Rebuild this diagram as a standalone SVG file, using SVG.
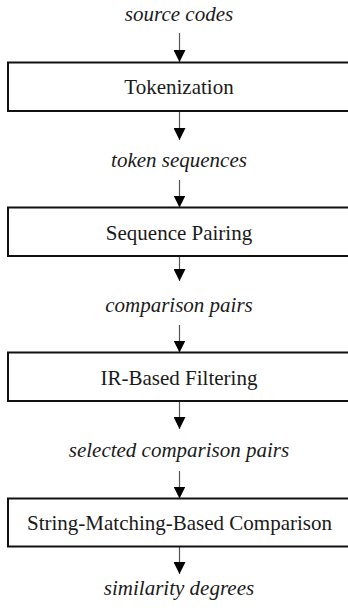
<svg xmlns="http://www.w3.org/2000/svg" width="348" height="610" viewBox="0 0 348 610">
<style>
.box{fill:#fff;stroke:#111;stroke-width:2}
.lbl{font-family:"Liberation Serif","Times New Roman",serif;font-size:21px;fill:#1a1a1a;text-anchor:middle}
.data{font-family:"Liberation Serif","Times New Roman",serif;font-size:21px;font-style:italic;fill:#1a1a1a;text-anchor:middle}
.conn{stroke:#555;stroke-width:1.2;fill:none;marker-end:url(#ah)}
</style>
<defs>
<marker id="ah" markerUnits="userSpaceOnUse" markerWidth="12" markerHeight="12" refX="12" refY="6" orient="auto">
<path d="M0,0 L12,6 L0,12 Z" fill="#000"/>
</marker>
</defs>
<rect width="348" height="610" fill="#fff"/>
<g id="connectors">
<line class="conn" x1="179.5" y1="33" x2="179.5" y2="62"/>
<line class="conn" x1="179.5" y1="111" x2="179.5" y2="140"/>
<line class="conn" x1="179.5" y1="180" x2="179.5" y2="207.5"/>
<line class="conn" x1="179.5" y1="256" x2="179.5" y2="281"/>
<line class="conn" x1="179.5" y1="325" x2="179.5" y2="352.5"/>
<line class="conn" x1="179.5" y1="401" x2="179.5" y2="429"/>
<line class="conn" x1="179.5" y1="471" x2="179.5" y2="498.5"/>
<line class="conn" x1="179.5" y1="546.5" x2="179.5" y2="574"/>
</g>
<g id="source-codes"><text class="data" x="179" y="21">source codes</text></g>
<g id="tokenization"><rect class="box" x="8" y="62.5" width="350" height="48.5"/><text class="lbl" x="179" y="94">Tokenization</text></g>
<g id="token-sequences"><text class="data" x="179" y="166.5">token sequences</text></g>
<g id="sequence-pairing"><rect class="box" x="8" y="207.5" width="350" height="48.5"/><text class="lbl" x="179" y="239.5">Sequence Pairing</text></g>
<g id="comparison-pairs"><text class="data" x="179" y="311.5">comparison pairs</text></g>
<g id="ir-based-filtering"><rect class="box" x="8" y="352.5" width="350" height="48.5"/><text class="lbl" x="179" y="384.5">IR-Based Filtering</text></g>
<g id="selected-comparison-pairs"><text class="data" x="179" y="456.5">selected comparison pairs</text></g>
<g id="string-matching"><rect class="box" x="8" y="498.5" width="350" height="48"/><text class="lbl" x="179.5" y="530">String-Matching-Based Comparison</text></g>
<g id="similarity-degrees"><text class="data" x="179" y="595">similarity degrees</text></g>
</svg>
